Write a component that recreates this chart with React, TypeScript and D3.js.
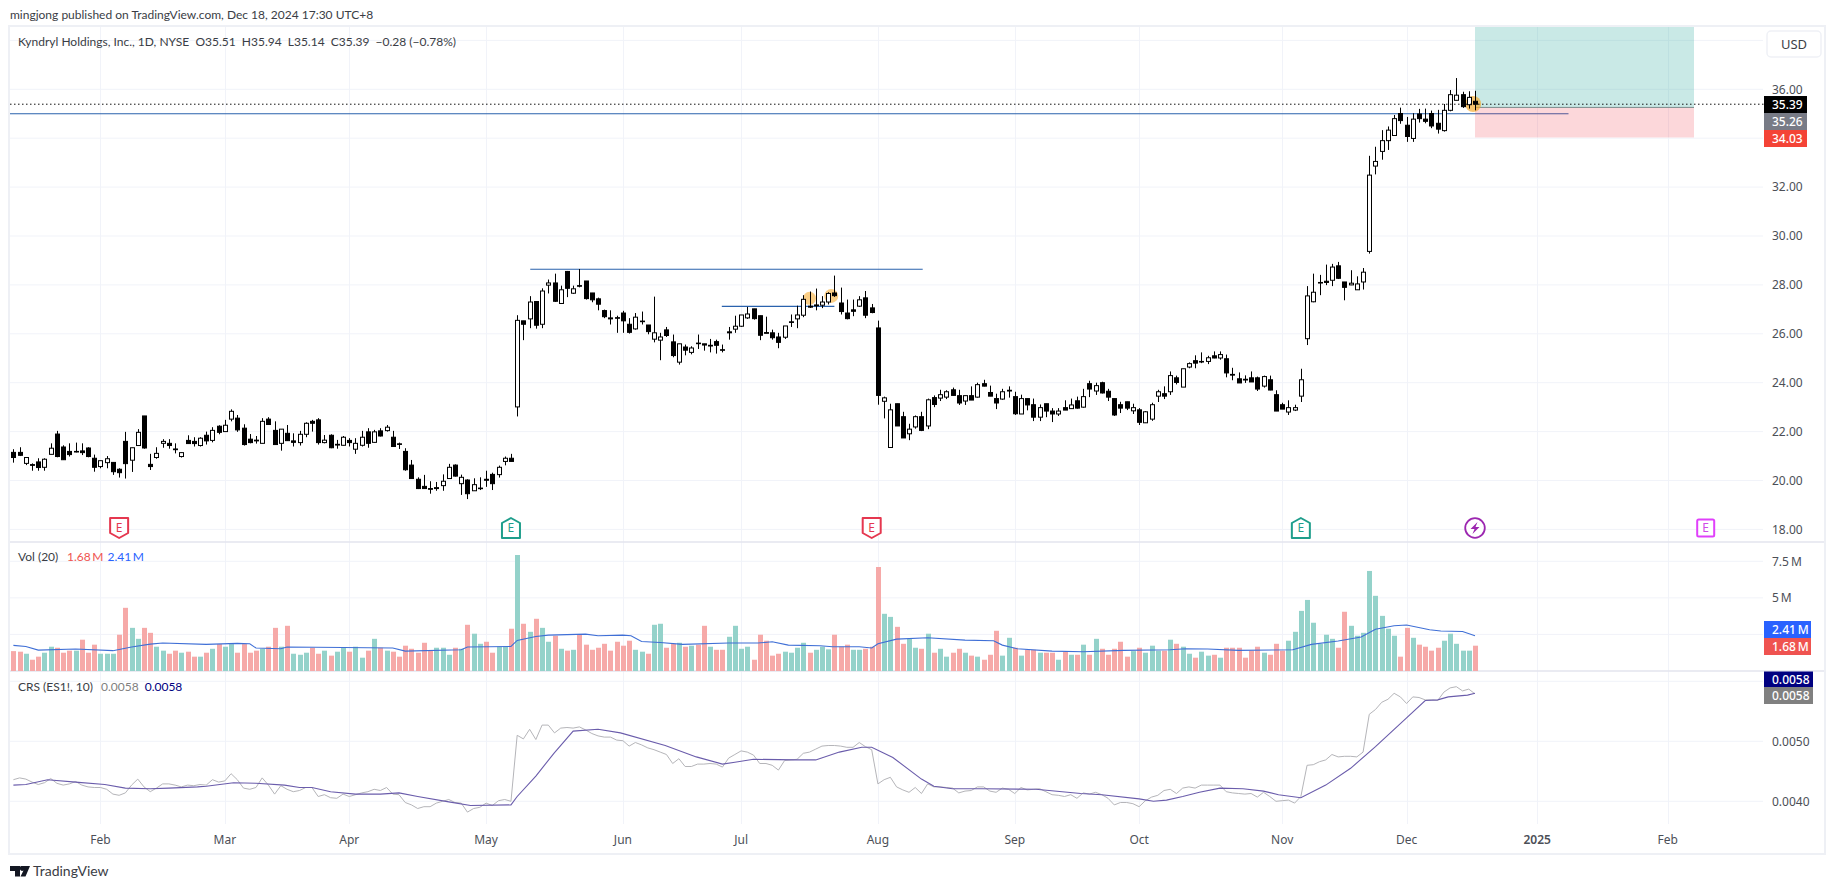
import React from "react";
import * as d3 from "d3";

const openPrices = [21.15,21.15,20.70,20.65,20.76,20.54,21.07,21.90,21.37,21.19,
21.19,21.21,21.33,20.91,20.57,20.73,20.74,20.46,21.60,20.83,
21.43,22.64,20.66,20.94,21.52,21.52,21.29,20.98,21.64,21.60,
21.43,21.85,21.64,22.22,22.00,22.51,22.55,22.14,21.69,21.65,
21.52,22.51,22.05,21.52,21.93,21.62,21.55,21.89,22.42,22.48,
21.55,21.85,21.48,21.44,21.64,21.28,21.44,21.99,21.56,22.03,
22.04,21.77,21.50,21.19,20.63,20.05,19.76,19.67,19.67,19.79,
20.08,20.63,19.87,20.02,19.58,19.67,20.05,20.25,20.24,20.78,
20.91,23.01,26.53,26.61,27.32,26.39,27.99,28.08,27.24,28.55,
27.66,27.97,28.16,27.67,27.43,26.95,26.65,26.66,26.85,26.39,
26.20,26.52,26.36,25.78,25.74,26.16,25.67,24.84,25.46,25.24,
25.62,25.59,25.53,25.68,25.35,26.08,26.19,26.31,26.65,27.02,
26.74,26.05,26.04,25.87,25.86,26.49,26.61,26.76,27.13,27.18,
27.17,27.30,27.67,27.26,26.85,26.98,27.13,27.47,27.06,26.24,
23.24,21.35,23.14,22.61,21.91,22.19,22.61,22.23,23.39,23.37,
23.41,23.71,23.47,23.25,23.47,23.41,23.96,23.60,23.35,23.33,
23.66,23.43,22.72,23.35,23.10,22.59,23.14,22.84,22.72,22.98,
22.94,23.26,23.00,23.96,23.66,24.00,23.65,23.35,23.10,23.22,
22.85,22.89,22.36,22.51,23.45,23.55,23.63,24.20,23.82,24.64,
24.90,24.87,24.87,25.10,25.01,24.98,24.34,24.16,24.14,24.20,
24.20,23.86,24.12,23.51,23.10,22.80,22.88,23.45,25.80,27.31,
28.08,28.15,28.19,28.78,28.12,28.00,27.80,28.12,29.37,32.86,
33.46,33.90,34.11,35.01,34.53,33.99,34.99,34.78,35.01,34.61,
34.31,35.14,35.55,35.78,35.37,35.51];

const closePrices = [20.94,21.03,20.94,20.62,20.53,20.87,21.32,20.98,20.85,21.06,
21.17,21.14,20.98,20.54,20.81,20.89,20.36,20.32,20.69,21.34,
21.97,21.33,20.57,21.11,21.60,21.43,21.26,21.14,21.51,21.51,
21.73,21.62,22.05,21.97,22.26,22.83,22.07,21.47,21.55,21.62,
22.42,22.29,21.47,22.10,21.63,21.56,21.89,22.34,22.34,21.55,
21.65,21.34,21.45,21.77,21.55,21.52,21.77,21.52,21.99,21.82,
22.18,21.39,21.48,20.44,20.08,19.67,19.67,19.64,19.71,19.97,
20.54,20.18,20.13,19.46,19.83,19.69,20.01,19.87,20.54,20.91,
20.78,26.55,26.39,27.30,26.35,27.75,28.08,27.33,27.80,27.86,
27.84,27.95,27.44,27.39,27.21,26.70,26.61,26.65,26.53,26.06,
26.68,26.51,26.09,26.04,25.87,25.93,25.11,25.59,25.33,25.42,
25.60,25.54,25.50,25.53,25.33,26.04,26.31,26.77,26.81,26.62,
25.94,26.02,25.84,25.65,26.32,26.47,26.77,27.41,27.09,27.15,
27.30,27.65,27.56,26.91,26.62,26.92,27.39,26.76,26.87,23.48,
23.38,22.89,22.23,21.74,22.10,22.61,22.05,23.30,23.11,23.51,
23.63,23.48,23.17,23.47,23.29,23.92,23.86,23.45,23.17,23.63,
23.69,22.73,23.35,23.09,22.59,22.98,22.84,22.72,22.84,22.88,
23.09,22.96,23.43,23.74,23.88,23.58,23.41,22.68,22.96,22.96,
22.98,22.38,22.81,23.10,23.63,23.45,24.29,24.01,24.57,24.78,
24.80,24.86,25.02,25.01,25.15,24.40,24.31,23.99,24.11,24.03,
23.74,24.25,23.70,22.84,22.92,22.98,22.98,24.12,27.55,27.70,
28.10,28.10,28.73,28.27,27.90,28.07,28.04,28.52,32.49,33.05,
33.90,34.33,34.80,34.72,34.07,34.78,34.80,34.69,34.50,34.37,
35.14,35.78,35.76,35.29,35.67,35.39];

const highPrices = [21.28,21.36,20.94,20.70,20.91,20.91,21.52,22.03,21.44,21.52,
21.55,21.52,21.36,21.06,20.81,21.00,20.74,20.50,21.99,21.34,
22.10,22.64,21.09,21.36,21.69,21.69,21.52,21.14,21.85,21.77,
21.77,22.00,22.18,22.26,22.48,22.91,22.68,22.30,21.90,21.82,
22.55,22.59,22.42,22.10,22.27,21.93,22.03,22.38,22.48,22.55,
21.86,21.89,21.66,21.82,21.73,21.73,22.03,22.14,22.07,22.14,
22.27,22.03,21.55,21.32,20.84,20.13,20.23,19.97,19.94,20.25,
20.68,20.66,20.24,20.05,20.09,20.13,20.40,20.32,20.61,20.98,
21.09,26.76,26.53,27.54,27.33,27.86,28.22,28.46,27.97,28.57,
27.97,28.65,28.16,27.67,27.48,26.99,26.96,26.74,26.94,26.64,
26.85,26.91,26.36,27.52,26.04,26.28,25.97,25.59,25.56,25.49,
25.97,25.59,25.79,25.76,25.56,26.28,26.74,26.77,27.10,27.02,
26.74,26.70,26.17,26.04,26.32,26.79,27.15,27.58,27.73,27.85,
27.54,27.70,28.38,27.89,27.40,27.40,27.54,27.75,27.22,26.54,
23.43,23.14,23.14,22.81,22.32,22.66,22.81,23.35,23.48,23.71,
23.69,23.80,23.71,23.47,23.85,24.00,24.12,23.88,23.55,23.75,
23.85,23.63,23.51,23.35,23.35,23.11,23.14,22.96,22.96,23.28,
23.35,23.43,23.75,24.08,24.00,24.04,23.75,23.35,23.22,23.22,
23.14,22.96,22.84,23.18,23.71,23.85,24.46,24.29,24.57,24.83,
25.12,25.24,25.10,25.28,25.28,25.15,24.61,24.42,24.30,24.46,
24.25,24.29,24.29,23.69,23.18,23.28,23.10,24.57,27.95,28.46,
28.41,28.83,28.86,28.94,28.12,28.60,28.35,28.69,33.28,33.65,
34.33,34.48,34.95,35.25,34.87,35.02,35.20,35.21,35.13,35.16,
35.40,35.97,36.46,35.90,35.92,35.94];

const lowPrices = [20.73,21.00,20.63,20.40,20.40,20.40,21.07,20.95,20.84,20.98,
21.15,21.04,20.95,20.36,20.50,20.50,20.23,20.12,20.08,20.35,
21.43,21.30,20.43,20.89,21.34,21.30,21.11,20.94,21.51,21.39,
21.39,21.47,21.56,21.89,22.00,22.42,21.99,21.43,21.52,21.51,
21.52,22.29,21.47,21.22,21.62,21.39,21.43,21.77,22.00,21.47,
21.52,21.32,21.30,21.43,21.39,21.09,21.39,21.34,21.55,21.80,
22.00,21.39,21.29,20.40,20.08,19.65,19.67,19.46,19.58,19.58,
20.08,20.16,19.41,19.24,19.58,19.61,19.74,19.61,20.12,20.62,
20.78,22.62,25.74,26.23,26.21,26.23,27.65,27.30,27.22,27.50,
27.63,27.90,27.40,27.29,26.96,26.64,26.38,26.04,26.04,26.01,
26.17,26.38,25.98,25.65,24.92,25.87,25.04,24.74,25.12,25.16,
25.38,25.31,25.24,25.19,25.24,25.76,26.04,26.28,26.61,26.58,
25.74,26.02,25.76,25.41,25.79,26.28,26.23,26.68,27.06,26.96,
27.05,27.20,27.51,26.79,26.59,26.72,27.10,26.64,26.84,23.10,
22.54,21.35,22.23,21.74,21.65,22.12,22.02,22.10,23.00,23.25,
23.33,23.47,23.09,23.09,23.29,23.39,23.85,23.45,22.92,23.30,
23.39,22.68,22.72,22.87,22.43,22.43,22.59,22.39,22.64,22.88,
22.94,22.94,22.98,23.41,23.50,23.56,23.25,22.64,22.76,22.88,
22.72,22.27,22.35,22.44,23.21,23.33,23.50,23.93,23.82,24.59,
24.59,24.80,24.76,25.00,24.94,24.22,24.10,23.99,23.99,24.03,
23.66,23.80,23.69,22.84,22.92,22.68,22.84,23.21,25.54,27.29,
27.58,27.99,27.95,28.24,27.37,27.99,27.80,27.81,29.28,32.52,
33.12,33.52,34.11,34.59,33.85,33.85,34.64,34.61,34.41,34.19,
34.27,35.10,35.55,35.24,35.21,35.14];

// Volume in millions of shares
const volumes = [1.36,1.32,1.18,0.77,0.98,1.25,1.66,1.59,1.25,1.39,
1.39,2.14,1.25,1.80,1.18,1.18,1.18,2.48,4.32,2.95,
2.20,2.95,2.61,1.66,1.39,1.18,1.39,1.25,1.32,0.98,
0.98,1.25,1.52,1.84,1.66,1.84,1.25,1.84,1.25,1.39,
1.52,1.66,2.95,1.66,3.09,1.18,1.11,1.25,1.59,1.18,
1.39,1.05,1.32,1.59,1.32,1.66,0.91,1.39,2.20,1.59,
1.39,1.32,0.98,1.73,1.52,1.25,1.93,1.39,1.59,1.59,
1.11,1.59,1.52,3.16,2.55,1.86,2.00,1.25,1.66,1.66,
2.89,7.93,3.23,2.68,3.57,2.95,2.00,2.41,1.52,1.39,
1.45,2.48,1.80,1.45,1.59,1.86,1.39,2.00,
1.73,2.07,1.45,1.32,1.18,3.16,3.23,1.59,1.86,1.93,
1.66,1.73,1.80,3.09,1.66,1.45,1.45,2.34,3.09,1.52,
1.66,0.77,2.48,2.07,1.05,1.18,1.32,1.25,1.59,1.93,
1.25,1.45,1.66,1.48,2.48,1.66,1.80,1.45,1.45,1.52,
1.66,7.11,3.91,3.70,3.02,1.86,2.20,1.59,1.52,2.55,
1.25,1.52,0.98,1.25,1.52,1.25,1.05,0.98,0.77,1.11,
2.75,1.05,2.27,1.59,1.05,1.45,1.45,1.25,1.25,1.25,
0.77,1.32,1.11,1.11,1.80,1.11,2.20,1.52,1.11,1.52,
2.00,0.98,1.36,1.59,1.25,1.73,1.39,1.39,2.14,1.86,
1.66,1.18,0.91,1.32,1.05,1.11,0.91,1.59,1.59,1.59,
0.91,1.39,1.66,1.25,1.11,1.86,1.39,2.07,2.68,4.11,
4.86,3.30,1.86,2.48,2.20,1.59,4.05,3.09,2.41,2.61,
6.84,5.14,3.77,2.89,2.41,0.98,2.95,2.27,1.80,1.66,
1.39,1.59,2.07,2.55,1.86,1.39,1.39,1.73];

// r = red bar, t = teal bar, one letter per session
const volumeColours = ("rrtrrttrrr"+"trrrtttrrt"+"trrttrrtrr"+"trtrttrrrr"+"trrtrtttrr"+"trttrttrtr"+"trrrrrrrtt"+"trtrttrrtt"+"rtrtrttrtr"+"trrrrrrr"
+"rrttrttrrt"+"rtrrtrrttt"+"trrrrrtttt"+"rtttrrrttr"+"rrttrrttrt"+"rttrrtrtrr"+"rttrtrrtrr"+"trtrtrtrrr"+"rrtrtttrtr"+"ttrttrtrrr"
+"rrrtrrrttt"+"tttttrrttt"+"tttttrrtrr"+"rrtttttr").split("");

const volumeMaBars = [0,2,4,10,16,19,22,24,31,36,38,39,43,44,53,61,63,72,73,80,81,84,86,92,94,98,99.3,101,104,107.6,115,119.7,122,124.6,129.7,131.7,136,138,139,142,147,153,157.6,159,161.4,167,172,178.5,186,188.5,192,197,205.7,208.7,213,216.7,219,222,224,227.7,229.5,233,235];
const volumeMaValues = [1.75,1.68,1.43,1.50,1.39,1.64,1.84,1.91,1.82,1.89,1.86,1.57,1.52,1.64,1.61,1.57,1.36,1.45,1.64,1.68,2.09,2.36,2.45,2.52,2.41,2.45,2.41,2.02,1.95,1.82,1.91,1.91,2.00,1.77,1.73,1.66,1.66,1.57,1.86,2.18,2.27,2.11,2.07,1.77,1.52,1.36,1.32,1.41,1.45,1.52,1.50,1.41,1.45,1.82,2.05,2.32,2.86,3.09,3.14,2.82,2.73,2.70,2.41];

// CRS in thousandths
const crsValues = [4.36,4.39,4.37,4.32,4.28,4.31,4.38,4.30,4.27,4.29,
4.33,4.27,4.24,4.23,4.23,4.20,4.12,4.10,4.14,4.27,
4.37,4.24,4.16,4.22,4.29,4.29,4.27,4.24,4.27,4.26,
4.28,4.27,4.36,4.32,4.34,4.46,4.36,4.22,4.20,4.23,
4.39,4.27,4.12,4.26,4.20,4.16,4.18,4.23,4.23,4.08,
4.11,4.06,4.05,4.12,4.08,4.11,4.14,4.16,4.20,4.18,
4.23,4.12,4.11,3.98,3.94,3.88,3.91,3.91,3.97,4.00,
4.03,3.98,3.97,3.82,3.88,3.90,3.97,3.93,4.01,4.03,
4.00,5.10,5.04,5.20,5.03,5.27,5.27,5.14,5.22,5.23,
5.22,5.24,5.19,5.13,5.09,5.07,5.07,5.02,
5.01,4.92,4.98,4.94,4.89,4.86,4.82,4.78,4.63,4.71,
4.58,4.58,4.62,4.62,4.63,4.62,4.57,4.72,4.78,4.84,
4.82,4.77,4.63,4.63,4.60,4.52,4.68,4.69,4.70,4.80,
4.82,4.87,4.92,4.93,4.93,4.92,4.90,4.90,4.98,4.91,
4.86,4.29,4.36,4.40,4.24,4.19,4.15,4.23,4.13,4.29,
4.24,4.24,4.23,4.22,4.14,4.17,4.18,4.24,4.24,4.17,
4.15,4.22,4.20,4.13,4.23,4.19,4.20,4.21,4.16,4.11,
4.10,4.08,4.11,4.05,4.14,4.12,4.15,4.11,4.05,3.94,
3.98,3.98,3.96,3.91,4.01,4.07,4.10,4.18,4.20,4.13,
4.22,4.24,4.22,4.27,4.27,4.27,4.27,4.16,4.14,4.13,
4.12,4.13,4.07,4.15,4.08,4.00,4.01,4.02,3.97,4.08,
4.60,4.61,4.66,4.69,4.78,4.74,4.75,4.75,4.74,4.82,
5.45,5.53,5.65,5.70,5.80,5.74,5.63,5.74,5.73,5.69,
5.69,5.68,5.82,5.89,5.91,5.84,5.87,5.79];

const crsMaBars = [0,2,5.5,10,14.7,18,22,25,29.6,31,35.4,39,43.6,46,48,51,55,59,62,65,70,73.5,80,81,84,86.9,90,94,97.6,104.8,109.8,114,116,119,125.6,129,132.8,136.4,138,141.4,146,148,151,155.8,164.4,171.6,175,181,183.3,185.4,188,190.7,194,197.7,201,203.4,207,211,215,219,222,224,227,229,230.7,233.8,235];
const crsMaValues = [4.27,4.28,4.36,4.32,4.28,4.22,4.21,4.22,4.24,4.25,4.31,4.30,4.27,4.23,4.23,4.16,4.12,4.12,4.14,4.08,3.99,3.93,3.94,4.08,4.42,4.80,5.17,5.20,5.14,4.93,4.74,4.62,4.65,4.70,4.69,4.69,4.82,4.90,4.90,4.73,4.37,4.25,4.21,4.21,4.20,4.13,4.11,4.04,4.00,4.02,4.08,4.15,4.22,4.21,4.17,4.11,4.06,4.27,4.55,4.91,5.20,5.39,5.68,5.69,5.74,5.77,5.80];

const priceTicks = [36,32,30,28,26,24,22,20,18];
const priceGrid = [38,36,34,32,30,28,26,24,22,20,18];
const volumeTicks = [7.5,5];
const volumeGrid = [7.5,5,2.5];
const crsTicks = [5,4];
const crsGrid = [6,5,4];
const timeLabels = ["Feb","Mar","Apr","May","Jun","Jul","Aug","Sep","Oct","Nov","Dec","2025","Feb"];
const timeBars = [14,34,54,76,98,117,139,161,181,204,224,245,266];

const FONT = "'Noto Sans', sans-serif";
const LEGEND_FONT = "Lato, 'Noto Sans', sans-serif";
const AXIS = "#4c4f57";
const GRID = "#f1f3f9";
const L = 10, R = 1763, TOP = 27, MAIN_B = 542, VOL_B = 671, CRS_B = 824, FRAME_B = 853, FRAME_R = 1824;

const x = d3.scaleLinear().domain([0, 235]).range([13.4, 1475]);
const yPrice = d3.scaleLinear().domain([18, 36]).range([529.4, 89.3]);
const yVol = d3.scaleLinear().domain([0, 7.5]).range([671, 561.3]);
const yCrs = d3.scaleLinear().domain([4, 5]).range([801.3, 741.3]);

const volMaPath = d3.line<number>().x((_, i) => x(volumeMaBars[i])).y(d => yVol(d))(volumeMaValues)!;
const crsPath = d3.line<number>().x((_, i) => x(i)).y(d => yCrs(d))(crsValues)!;
const crsMaPath = d3.line<number>().x((_, i) => x(crsMaBars[i])).y(d => yCrs(d))(crsMaValues)!;

const Tag = ({ yc, x1, h = 17, fill, label }: any) => (
  <g>
    <rect x={1764} y={yc - h / 2} width={x1 - 1764} height={h} fill={fill} />
    <text x={1772} y={yc + 4.2} fontSize={12} fill="#fff" fontWeight={500}>{label}</text>
  </g>
);

const AxisLabel = ({ y, label }: any) => (
  <text x={1772} y={y + 4.2} fontSize={12} fill={AXIS}>{label}</text>
);

const EarningsMark = ({ bar, colour, dir }: any) => {
  const cx = x(bar), cy = 528;
  const d = dir === "down"
    ? "M-9,-10H9V5L0,10L-9,5Z"
    : "M0,-10L9,-5V10H-9V-5Z";
  return (
    <g transform={`translate(${cx},${cy})`}>
      <path d={d} fill="#fff" stroke={colour} strokeWidth={2} strokeLinejoin="round" />
      <text x={0} y={4.3} textAnchor="middle" fontSize={12} fill={colour}>E</text>
    </g>
  );
};

export default function App() {
  return (
    <svg width={1835} height={889} viewBox="0 0 1835 889"
      style={{ position: "absolute", left: 0, top: 0, display: "block", background: "#fff", fontFamily: FONT }}>
      {/* frame */}
      <rect x={L - 1} y={TOP - 1} width={FRAME_R - L + 2} height={FRAME_B - TOP + 2} fill="#fff" stroke="#eef0f5" strokeWidth={2} />

      {/* grids */}
      {timeBars.map((b, i) => (
        <line key={i} x1={Math.round(x(b)) + 0.5} x2={Math.round(x(b)) + 0.5} y1={TOP} y2={CRS_B} stroke={GRID} />
      ))}
      {priceGrid.map(p => <line key={p} x1={L} x2={R} y1={yPrice(p)} y2={yPrice(p)} stroke={GRID} />)}
      {volumeGrid.map(p => <line key={p} x1={L} x2={R} y1={yVol(p)} y2={yVol(p)} stroke={GRID} />)}
      {crsGrid.map(p => <line key={p} x1={L} x2={R} y1={yCrs(p)} y2={yCrs(p)} stroke={GRID} />)}

      {/* position tool */}
      <rect x={x(235)} y={TOP} width={1694 - x(235)} height={yPrice(35.26) - TOP} fill="#26a69a" opacity={0.25} />

      {/* trend lines */}
      <line x1={L} x2={1568.5} y1={yPrice(35)} y2={yPrice(35)} stroke="#2a62ad" strokeWidth={1.1} />
      <line x1={x(83.1)} x2={x(146.2)} y1={yPrice(28.64)} y2={yPrice(28.64)} stroke="#2a62ad" strokeWidth={1.1} />
      <line x1={x(113.9)} x2={x(132)} y1={yPrice(27.12)} y2={yPrice(27.12)} stroke="#2a62ad" strokeWidth={1.1} />

      <rect x={x(235)} y={yPrice(35.26)} width={1694 - x(235)} height={yPrice(34.03) - yPrice(35.26)} fill="#f23645" opacity={0.2} />
      <line x1={x(235)} x2={1694} y1={yPrice(35.26)} y2={yPrice(35.26)} stroke="#7a8a8a" strokeWidth={1} />

      {/* highlights */}
      <circle cx={x(128)} cy={yPrice(27.45)} r={6.5} fill="#f5a623" opacity={0.55} />
      <circle cx={x(131.5)} cy={yPrice(27.55)} r={7} fill="#f5a623" opacity={0.55} />
      <circle cx={x(234.7)} cy={yPrice(35.4)} r={8} fill="#f5a623" opacity={0.65} />

      {/* candles */}
      {closePrices.map((c, i) => {
        const o = openPrices[i];
        const cx = Math.round(x(i)) + 0.5;
        const top = yPrice(Math.max(o, c)), bot = yPrice(Math.min(o, c));
        const up = c > o;
        return (
          <g key={i}>
            <line x1={cx} x2={cx} y1={yPrice(highPrices[i])} y2={yPrice(lowPrices[i])} stroke="#000" strokeWidth={1} />
            <rect x={cx - 2} y={top} width={4} height={Math.max(bot - top, 0.6)}
              fill={up ? "#fff" : "#000"} stroke="#000" strokeWidth={1} />
          </g>
        );
      })}

      {/* last-price dotted line */}
      <line x1={L} x2={1764} y1={yPrice(35.39)} y2={yPrice(35.39)} stroke="#111" strokeWidth={1} strokeDasharray="1.5 2.5" />

      {/* pane separators */}
      <line x1={L} x2={FRAME_R} y1={MAIN_B} y2={MAIN_B} stroke="#e3e5ee" strokeWidth={1.5} />
      <line x1={L} x2={FRAME_R} y1={VOL_B} y2={VOL_B} stroke="#e3e5ee" strokeWidth={1.5} />

      {/* volume */}
      {volumes.map((v, i) => (
        <rect key={i} x={Math.round(x(i)) - 2} y={yVol(v)} width={5} height={yVol(0) - yVol(v)}
          fill={volumeColours[i] === "t" ? "#94d2ca" : "#f6a9a8"} />
      ))}
      <path d={volMaPath} fill="none" stroke="#3f6fd6" strokeWidth={1.1} />

      {/* CRS */}
      <path d={crsPath} fill="none" stroke="#b5b5b9" strokeWidth={1} />
      <path d={crsMaPath} fill="none" stroke="#6a5cab" strokeWidth={1.1} />

      {/* earnings and dividend marks */}
      <EarningsMark bar={17} colour="#e5374f" dir="down" />
      <EarningsMark bar={80} colour="#1f9e8c" dir="up" />
      <EarningsMark bar={138} colour="#e5374f" dir="down" />
      <EarningsMark bar={207} colour="#1f9e8c" dir="up" />
      <g transform={`translate(${x(235)},528)`}>
        <circle r={9.8} fill="#fff" stroke="#9c27b0" strokeWidth={1.8} />
        <path d="M2.5,-6L-4.5,1H-0.5L-2.5,6L4.5,-1H0.5Z" fill="#9c27b0" />
      </g>
      <g transform={`translate(${x(235) + 230.7},528)`}>
        <rect x={-8.5} y={-8.5} width={17} height={17} rx={1.5} fill="#fff" stroke="#e040fb" strokeWidth={2} />
        <text y={4.3} textAnchor="middle" fontSize={12} fill="#d04be8">E</text>
      </g>

      {/* axis labels */}
      {priceTicks.map(p => <AxisLabel key={p} y={yPrice(p)} label={d3.format(".2f")(p)} />)}
      {volumeTicks.map(v => <AxisLabel key={v} y={yVol(v)} label={`${v}\u2009M`} />)}
      {crsTicks.map(v => <AxisLabel key={v} y={yCrs(v)} label={d3.format(".4f")(v / 1000)} />)}
      {timeLabels.map((t, i) => (
        <text key={i} x={x(timeBars[i])} y={844} textAnchor="middle" fontSize={12} fill={AXIS}
          fontWeight={t === "2025" ? 600 : 400}>{t}</text>
      ))}

      {/* tags */}
      <Tag yc={yPrice(35.39) + 0.3} x1={1807} fill="#000" label="35.39" />
      <Tag yc={121.5} x1={1807} fill="#787b86" label="35.26" />
      <Tag yc={138.5} x1={1807} fill="#f44336" label="34.03" />
      <Tag yc={629.5} x1={1811} fill="#2962ff" label={"2.41\u2009M"} />
      <Tag yc={646.5} x1={1811} fill="#ef5350" label={"1.68\u2009M"} />
      <Tag yc={679.5} x1={1813} h={16} fill="#000080" label="0.0058" />
      <Tag yc={695.5} x1={1813} h={17} fill="#808080" label="0.0058" />

      {/* USD */}
      <rect x={1767} y={31} width={54} height={26} rx={4} fill="#fff" stroke="#eff1f6" strokeWidth={1.5} />
      <text x={1794} y={48.5} textAnchor="middle" fontSize={13} fill="#3c3f47">USD</text>

      {/* titles and legends */}
      <g fontFamily={LEGEND_FONT}>
        <text x={10} y={19} fontSize={12} fill="#3a3d45">mingjong published on TradingView.com, Dec 18, 2024 17:30 UTC+8</text>
        <text x={18} y={46} fontSize={12} fill="#3a3d45" xmlSpace="preserve">Kyndryl Holdings, Inc., 1D, NYSE  O35.51  H35.94  L35.14  C35.39  −0.28 (−0.78%)</text>
        <text x={18} y={561} fontSize={12} fill="#3a3d45">Vol (20)</text>
        <text x={67} y={561} fontSize={12} fill="#ef5350">{"1.68\u2009M"}</text>
        <text x={107.5} y={561} fontSize={12} fill="#2962ff">{"2.41\u2009M"}</text>
        <text x={18} y={691} fontSize={12} fill="#3a3d45">CRS (ES1!, 10)</text>
        <text x={101} y={691} fontSize={12} fill="#808080">0.0058</text>
        <text x={144.7} y={691} fontSize={12} fill="#000080">0.0058</text>
      </g>

      {/* footer logo */}
      <path d="M10,866H20V876.5H15V871H10ZM21,866H30L25.5,876.5H20.5L23.5,870.5A2.2,2.2 0 0 1 21,866Z" fill="#131722" />
      <text x={33} y={876} fontSize={14} fontFamily={LEGEND_FONT} fill="#3a3d45">TradingView</text>
    </svg>
  );
}
